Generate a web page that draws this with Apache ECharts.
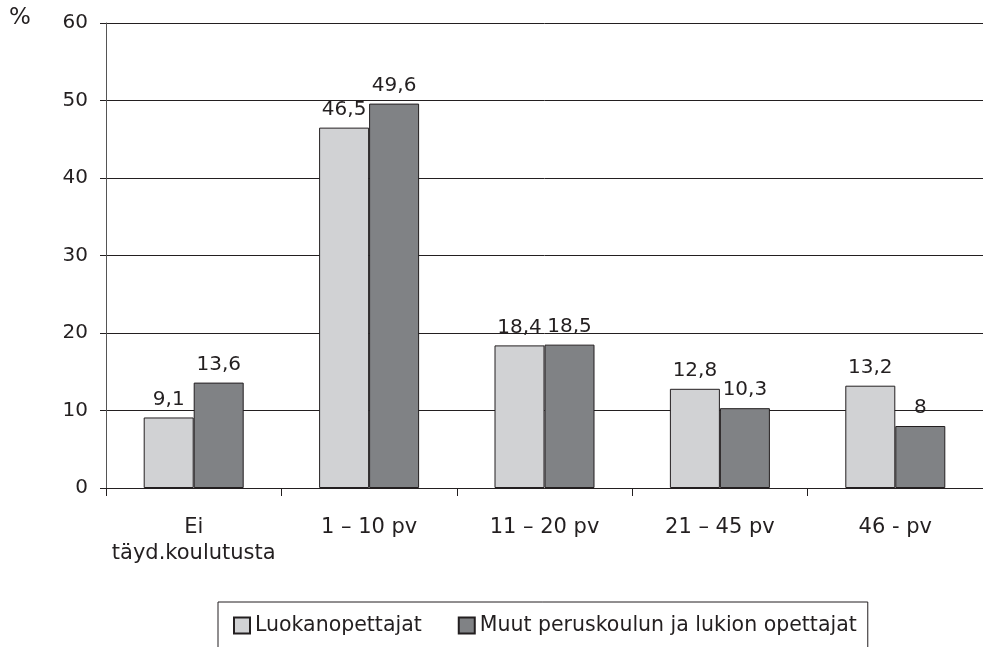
<!DOCTYPE html>
<html lang="fi">
<head>
    <meta charset="UTF-8">
    <title>Täydennyskoulutus</title>
    <script src="https://cdn.jsdelivr.net/npm/echarts@6.0.0/dist/echarts.min.js"></script>
    <style>
        html, body { margin: 0; padding: 0; background: #fff; }
        #kaavio { width: 983px; height: 647px; }
    </style>
</head>
<body>
    <div id="kaavio"></div>
    <script>
        const kategoriat = ['Ei\ntäyd.koulutusta', '1 – 10 pv', '11 – 20 pv', '21 – 45 pv', '46 - pv'];
        const luokanopettajat = [9.1, 46.5, 18.4, 12.8, 13.2];
        const muutOpettajat = [13.6, 49.6, 18.5, 10.3, 8];
        const sarjaNimet = ['Luokanopettajat', 'Muut peruskoulun ja lukion opettajat'];
        const yTicks = [0, 10, 20, 30, 40, 50, 60];

        const fontti = '"DejaVu Sans", "Liberation Sans", Arial, sans-serif';
        const musta = '#231f20';

        // pilkku desimaalierottimena
        function pilkku(p) {
            return String(p.value).replace('.', ',');
        }

        let kaavio = echarts.init(document.getElementById('kaavio'), null, { renderer: 'canvas' });

        let option = {
            backgroundColor: '#fff',
            animation: false,
            textStyle: { fontFamily: fontti, color: musta },
            graphic: [{
                type: 'text',
                left: 9,
                top: 7,
                style: { text: '%', font: '23px ' + fontti, fill: musta }
            }],
            // ruudukko jatkuu hieman kuvan oikean reunan yli
            grid: { left: 106, top: 23, width: 883, bottom: 159, containLabel: false },
            legend: {
                data: sarjaNimet,
                left: 218,
                top: 602,
                orient: 'horizontal',
                itemWidth: 16,
                itemHeight: 16,
                itemGap: 36,
                icon: 'rect',
                borderColor: musta,
                borderWidth: 1,
                padding: [13, 11, 30, 15],
                textStyle: { fontSize: 20.5, fontFamily: fontti, color: musta }
            },
            xAxis: {
                type: 'category',
                data: kategoriat,
                axisLine: { show: true, lineStyle: { color: musta, width: 1 } },
                axisTick: { show: true, length: 8, alignWithLabel: false, lineStyle: { color: musta } },
                axisLabel: {
                    fontSize: 21,
                    fontFamily: fontti,
                    color: musta,
                    margin: 27,
                    lineHeight: 26,
                    interval: 0
                }
            },
            yAxis: {
                type: 'value',
                min: yTicks[0],
                max: yTicks[yTicks.length - 1],
                interval: 10,
                axisLine: { show: true, lineStyle: { color: '#555', width: 1 } },
                axisTick: { show: true, length: 6, lineStyle: { color: musta } },
                axisLabel: { fontSize: 20, fontFamily: fontti, color: musta, margin: 18 },
                splitLine: { show: true, lineStyle: { color: musta, width: 1 } }
            },
            series: [
                {
                    name: sarjaNimet[0],
                    type: 'bar',
                    data: luokanopettajat,
                    barWidth: 50,
                    barGap: '0%',
                    itemStyle: { color: '#d1d2d4', borderColor: musta, borderWidth: 1 },
                    label: {
                        show: true,
                        position: 'top',
                        distance: 8,
                        fontSize: 20,
                        fontFamily: fontti,
                        color: musta,
                        formatter: pilkku
                    }
                },
                {
                    name: sarjaNimet[1],
                    type: 'bar',
                    data: muutOpettajat,
                    barWidth: 50,
                    barGap: '0%',
                    itemStyle: { color: '#808285', borderColor: musta, borderWidth: 1 },
                    label: {
                        show: true,
                        position: 'top',
                        distance: 8,
                        fontSize: 20,
                        fontFamily: fontti,
                        color: musta,
                        formatter: pilkku
                    }
                }
            ]
        };

        kaavio.setOption(option);
    </script>
</body>
</html>
